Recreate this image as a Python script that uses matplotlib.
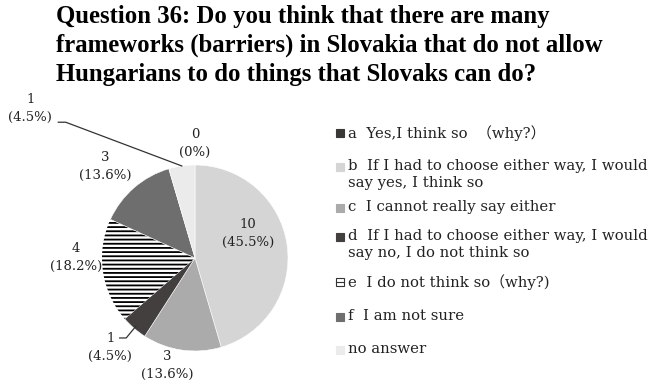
import matplotlib.pyplot as plt
import numpy as np
from matplotlib.patches import Rectangle
from matplotlib.lines import Line2D

plt.rcParams['font.family'] = ['DejaVu Serif', 'Noto Sans CJK JP']
plt.rcParams['hatch.linewidth'] = 1.3

title = ('Question 36: Do you think that there are many\n'
         'frameworks (barriers) in Slovakia that do not allow\n'
         'Hungarians to do things that Slovaks can do?')

legend_labels = ['a  Yes,I think so  （why?）',
                 'b  If I had to choose either way, I would\nsay yes, I think so',
                 'c  I cannot really say either',
                 'd  If I had to choose either way, I would\nsay no, I do not think so',
                 'e  I do not think so（why?)',
                 'f  I am not sure',
                 'no answer']
counts = [0, 10, 3, 1, 4, 3, 1]
colors = ['#3a3737', '#d5d5d5', '#ababab', '#433f3e', 'white', '#6e6e6e', '#ebebeb']
hatches = [None, None, None, None, '----', None, None]

# label spots (in pie radius units) and legend rows (px from top)
label_xy = [(0.0, 1.23), (0.57, 0.26), (-0.30, -1.16), (-0.91, -0.96),
            (-1.28, 0.01), (-0.97, 0.98), (-1.77, 1.61)]
legend_y = [133, 167, 208, 237, 282, 317, 350]

W, H = 652, 382
fig = plt.figure(figsize=(W / 100, H / 100), dpi=100)

fig.text(56 / W, 1 - 5 / H, title, fontsize=17.8, fontweight='bold',
         family=['Liberation Serif'], va='top', ha='left', linespacing=1.33)

# pie: center (195, 258) px, radius 93 px
cx, cy, r = 195, 258, 93
ax = fig.add_axes([(cx - 2 * r) / W, 1 - (cy + 2 * r) / H, 4 * r / W, 4 * r / H])

wedges, _ = ax.pie(counts, colors=colors, startangle=90, counterclock=False,
                   radius=1, wedgeprops=dict(edgecolor='white', linewidth=0.4))
ax.set_xlim(-2, 2)
ax.set_ylim(-2, 2)
ax.axis('off')
for w, h in zip(wedges, hatches):
    if h:
        w.set_hatch(h)
        w.set_edgecolor('black')
        w.set_linewidth(0)
wedges[0].set_edgecolor('#9aa6c0')
wedges[0].set_linewidth(0.6)

total = sum(counts)
for i, (n, (lx, ly)) in enumerate(zip(counts, label_xy)):
    pct = 100 * n / total
    ax.text(lx, ly, f'{n}\n({pct:.1f}%)'.replace('(0.0%)', '(0%)'),
            ha='center', va='center', fontsize=9.5, linespacing=1.5,
            color='#222222')

# leader lines
def mid_point(i):
    start = sum(counts[:i]) / total
    mid = start + counts[i] / total / 2
    ang = np.deg2rad(90 - 360 * mid)
    return np.cos(ang), np.sin(ang)

ex, ey = mid_point(3)
ax.plot([label_xy[3][0] + 0.1, label_xy[3][0] + 0.17, ex * 0.97],
        [label_xy[3][1] + 0.1, label_xy[3][1] + 0.1, ey * 0.97],
        color='#333333', lw=0.9)
ex, ey = mid_point(6)
ax.plot([label_xy[6][0] + 0.3, label_xy[6][0] + 0.38, ex],
        [label_xy[6][1] - 0.15, label_xy[6][1] - 0.15, ey],
        color='#333333', lw=0.9)

# legend
for lab, c, h, y in zip(legend_labels, colors, hatches, legend_y):
    sq = Rectangle((336 / W, 1 - (y + 4) / H), 8 / W, 8 / H,
                   transform=fig.transFigure, facecolor=c,
                   edgecolor='#333333' if h else c, linewidth=0.8)
    fig.add_artist(sq)
    if h:
        fig.add_artist(Line2D([336 / W, 344 / W], [1 - y / H, 1 - y / H],
                              transform=fig.transFigure, color='#333333', lw=0.8))
    fig.text(348 / W, 1 - (y - 8) / H, lab, fontsize=10.75, va='top', ha='left',
             linespacing=1.28, color='#222222')

fig.savefig('out.png', dpi=100)
